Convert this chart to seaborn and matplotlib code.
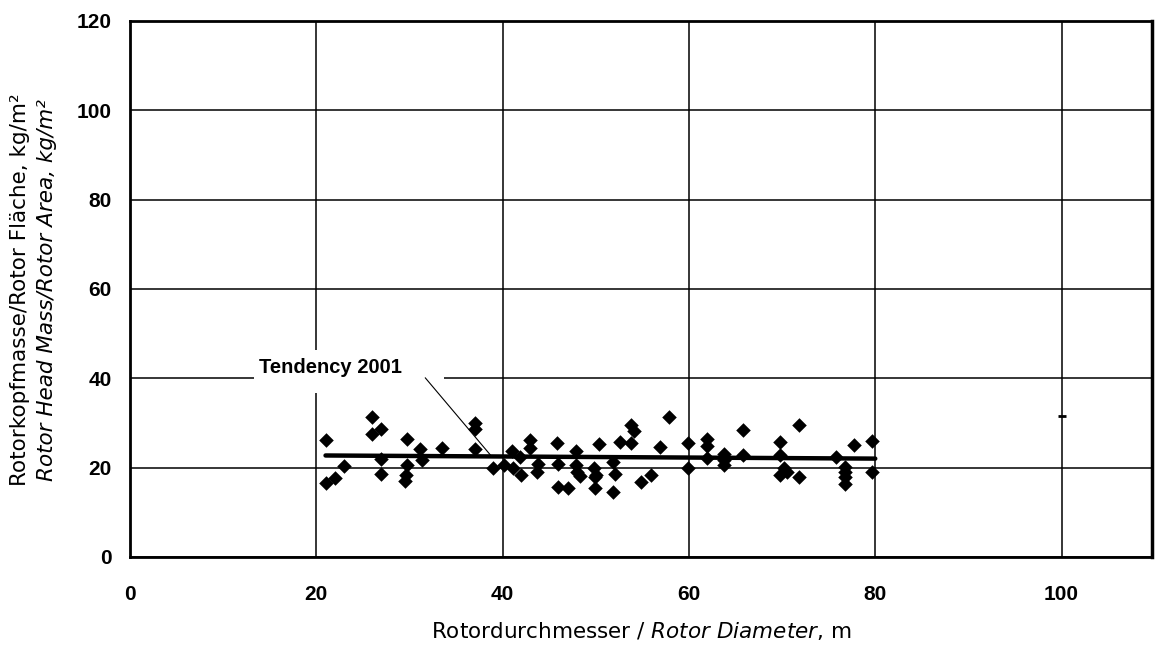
import matplotlib
matplotlib.use('Agg')
import matplotlib.pyplot as plt
from matplotlib.patches import Rectangle
import pandas as pd
import seaborn as sns

# Rotor diameter (m) and rotor head mass per rotor area (kg/m²)
diameter = [21.1, 21.0, 22.0, 23.0, 26.0, 26.0, 27.0, 27.0, 27.0, 29.7, 29.7, 29.6, 29.5,
            31.1, 31.4, 33.5, 37.0, 37.0, 37.0, 39.0, 40.2, 41.0, 41.1, 41.9, 42.0, 42.9,
            42.9, 43.8, 43.7, 45.8, 45.9, 45.9, 47.0, 47.9, 47.9, 48.0, 48.3, 49.8, 49.9,
            49.9, 50.3, 50.0, 51.8, 52.1, 51.8, 52.6, 53.8, 54.1, 53.8, 54.9, 55.9, 56.9,
            57.9, 59.9, 59.9, 61.9, 61.9, 61.9, 63.8, 63.8, 63.8, 65.8, 65.8, 69.8, 69.8,
            70.2, 69.8, 70.5, 71.8, 71.8, 75.8, 76.8, 76.8, 76.8, 76.8, 77.7, 79.7, 79.7]
mass_area = [26.2, 16.6, 17.7, 20.4, 31.3, 27.5, 28.7, 22.0, 18.6, 26.4, 20.5, 18.3, 16.9,
             24.2, 21.7, 24.3, 30.0, 28.6, 24.2, 19.8, 20.5, 23.7, 19.8, 22.4, 18.3, 26.2,
             24.3, 20.9, 19.0, 25.6, 20.9, 15.6, 15.4, 23.6, 20.5, 19.0, 18.1, 19.8, 17.9,
             15.4, 25.2, 18.3, 21.3, 18.6, 14.5, 25.7, 29.6, 28.1, 25.5, 16.7, 18.3, 24.5,
             31.3, 25.5, 19.8, 26.4, 24.9, 22.2, 23.0, 21.7, 20.5, 28.5, 22.7, 25.8, 22.8,
             19.8, 18.3, 19.0, 29.6, 17.9, 22.4, 20.2, 19.0, 17.9, 16.4, 25.1, 26.0, 19.0]

# tendency line 2001
trend_x = [21.0, 80.0]
trend_y = [22.7, 22.0]

# lone mark at 100 m
extra_x = [100.0]
extra_y = [31.5]

x_ticks = [0, 20, 40, 60, 80, 100]
y_ticks = [0, 20, 40, 60, 80, 100, 120]

data = pd.DataFrame({'diameter': diameter, 'mass_area': mass_area})
trend = pd.DataFrame({'x': trend_x, 'y': trend_y})

sns.set_style('white')
plt.rcParams['font.family'] = ['Liberation Sans', 'DejaVu Sans']
plt.rcParams['mathtext.fontset'] = 'dejavusans'
plt.rcParams['text.color'] = 'black'
plt.rcParams['axes.labelcolor'] = 'black'
plt.rcParams['xtick.color'] = 'black'
plt.rcParams['ytick.color'] = 'black'

fig = plt.figure(figsize=(11.7, 6.46), dpi=100)
ax = fig.add_axes([0.111, 0.138, 0.8736, 0.8295])

ax.grid(True, color='black', linewidth=1.1)
ax.set_axisbelow(True)

sns.scatterplot(data=data, x='diameter', y='mass_area', marker='D', s=55,
                color='black', edgecolor='black', linewidth=0, ax=ax, zorder=3)
sns.lineplot(data=trend, x='x', y='y', color='black', linewidth=3.2, ax=ax, zorder=4)
ax.scatter(extra_x, extra_y, marker='_', s=40, color='black', linewidths=2, zorder=3)

# label for the tendency line, white box hides the grid behind it
ax.add_patch(Rectangle((13.3, 36.8), 20.4, 9.6, facecolor='white', edgecolor='none', zorder=2.5))
ax.text(21.5, 42.4, 'Tendency 2001', ha='center', va='center', fontsize=14.5,
        fontweight='bold', color='black', zorder=5)
ax.annotate('', xy=(38.7, 22.8), xytext=(31.7, 40.1),
            arrowprops=dict(arrowstyle='-', color='black', linewidth=0.8,
                            shrinkA=0, shrinkB=0), zorder=5)

ax.set_xlim(0, 109.7)
ax.set_ylim(0, 120)
ax.set_xticks(x_ticks)
ax.set_yticks(y_ticks)
ax.tick_params(axis='both', direction='out', length=6, width=1, color='black',
               labelcolor='black', labelsize=15)
ax.tick_params(axis='x', pad=14)
ax.tick_params(axis='y', pad=7)
for lab in ax.get_xticklabels() + ax.get_yticklabels():
    lab.set_fontweight('bold')

for side in ['left', 'right', 'top', 'bottom']:
    ax.spines[side].set_visible(True)
    ax.spines[side].set_color('black')
    ax.spines[side].set_linewidth(2)
ax.spines['right'].set_linewidth(2.5)

ax.set_xlabel(r'Rotordurchmesser / $\mathit{Rotor\ Diameter}$, m', fontsize=15.5,
              fontfamily='DejaVu Sans', color='black')
ax.xaxis.set_label_coords(0.5, -0.118)
ax.set_ylabel('')

fig.text(0.0175, 0.551, 'Rotorkopfmasse/Rotor Fläche, kg/m²', rotation=90,
         ha='center', va='center', fontsize=15.5, fontfamily='DejaVu Sans', color='black')
fig.text(0.0405, 0.551, 'Rotor Head Mass/Rotor Area, kg/m²', rotation=90,
         ha='center', va='center', fontsize=15.5, fontfamily='DejaVu Sans',
         style='italic', color='black')

fig.savefig('out.png', dpi=100, facecolor='white')
